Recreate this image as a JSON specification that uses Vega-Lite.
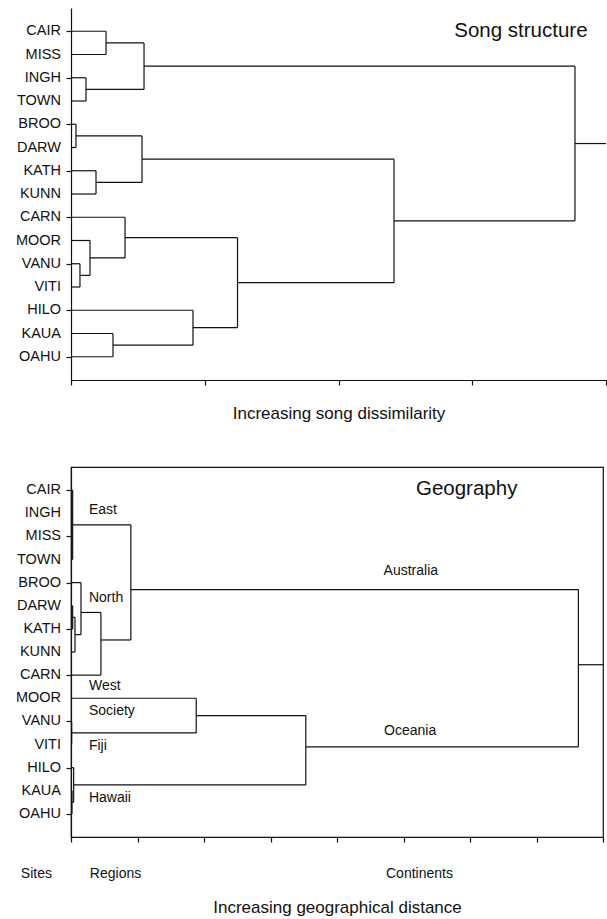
{
  "$schema": "https://vega.github.io/schema/vega-lite/v6.json",
  "background": "white",
  "padding": {"left": 15, "top": 8, "right": 0, "bottom": 0},
  "spacing": 44,
  "config": {
    "font": "Liberation Sans",
    "view": {"stroke": null},
    "axis": {
      "domainColor": "#111", "tickColor": "#111", "domainWidth": 1.2, "tickWidth": 1.2,
      "grid": false, "labels": false, "tickSize": 5,
      "titleFont": "Liberation Sans", "titleFontSize": 17, "titleFontWeight": "normal", "titleColor": "#111"
    },
    "text": {"font": "Liberation Sans", "color": "#111"}
  },
  "datasets": {
    "songLeaves": [
      {"site": "CAIR", "pos": 1}, {"site": "MISS", "pos": 2}, {"site": "INGH", "pos": 3}, {"site": "TOWN", "pos": 4},
      {"site": "BROO", "pos": 5}, {"site": "DARW", "pos": 6}, {"site": "KATH", "pos": 7}, {"site": "KUNN", "pos": 8},
      {"site": "CARN", "pos": 9}, {"site": "MOOR", "pos": 10}, {"site": "VANU", "pos": 11}, {"site": "VITI", "pos": 12},
      {"site": "HILO", "pos": 13}, {"site": "KAUA", "pos": 14}, {"site": "OAHU", "pos": 15}
    ],
    "songSegs": [
      {"x": 0, "x2": 0.262, "y": 1, "y2": 1}, {"x": 0, "x2": 0.262, "y": 2, "y2": 2},
      {"x": 0, "x2": 0.112, "y": 3, "y2": 3}, {"x": 0, "x2": 0.112, "y": 4, "y2": 4},
      {"x": 0, "x2": 0.037, "y": 5, "y2": 5}, {"x": 0, "x2": 0.037, "y": 6, "y2": 6},
      {"x": 0, "x2": 0.187, "y": 7, "y2": 7}, {"x": 0, "x2": 0.187, "y": 8, "y2": 8},
      {"x": 0, "x2": 0.404, "y": 9, "y2": 9}, {"x": 0, "x2": 0.142, "y": 10, "y2": 10},
      {"x": 0, "x2": 0.067, "y": 11, "y2": 11}, {"x": 0, "x2": 0.067, "y": 12, "y2": 12},
      {"x": 0, "x2": 0.912, "y": 13, "y2": 13}, {"x": 0, "x2": 0.314, "y": 14, "y2": 14},
      {"x": 0, "x2": 0.314, "y": 15, "y2": 15},
      {"x": 0.262, "x2": 0.262, "y": 1, "y2": 2},
      {"x": 0.112, "x2": 0.112, "y": 3, "y2": 4},
      {"x": 0.546, "x2": 0.546, "y": 1.5, "y2": 3.5},
      {"x": 0.037, "x2": 0.037, "y": 5, "y2": 6},
      {"x": 0.187, "x2": 0.187, "y": 7, "y2": 8},
      {"x": 0.531, "x2": 0.531, "y": 5.5, "y2": 7.5},
      {"x": 0.067, "x2": 0.067, "y": 11, "y2": 12},
      {"x": 0.142, "x2": 0.142, "y": 10, "y2": 11.5},
      {"x": 0.404, "x2": 0.404, "y": 9, "y2": 10.75},
      {"x": 0.314, "x2": 0.314, "y": 14, "y2": 15},
      {"x": 0.912, "x2": 0.912, "y": 13, "y2": 14.5},
      {"x": 1.245, "x2": 1.245, "y": 9.875, "y2": 13.75},
      {"x": 2.415, "x2": 2.415, "y": 6.5, "y2": 11.8125},
      {"x": 3.768, "x2": 3.768, "y": 2.5, "y2": 9.156},
      {"x": 0.262, "x2": 0.546, "y": 1.5, "y2": 1.5},
      {"x": 0.112, "x2": 0.546, "y": 3.5, "y2": 3.5},
      {"x": 0.546, "x2": 3.768, "y": 2.5, "y2": 2.5},
      {"x": 0.037, "x2": 0.531, "y": 5.5, "y2": 5.5},
      {"x": 0.187, "x2": 0.531, "y": 7.5, "y2": 7.5},
      {"x": 0.531, "x2": 2.415, "y": 6.5, "y2": 6.5},
      {"x": 0.067, "x2": 0.142, "y": 11.5, "y2": 11.5},
      {"x": 0.142, "x2": 0.404, "y": 10.75, "y2": 10.75},
      {"x": 0.404, "x2": 1.245, "y": 9.875, "y2": 9.875},
      {"x": 0.314, "x2": 0.912, "y": 14.5, "y2": 14.5},
      {"x": 0.912, "x2": 1.245, "y": 13.75, "y2": 13.75},
      {"x": 1.245, "x2": 2.415, "y": 11.8125, "y2": 11.8125},
      {"x": 2.415, "x2": 3.768, "y": 9.156, "y2": 9.156},
      {"x": 3.768, "x2": 4, "y": 5.83, "y2": 5.83}
    ],
    "songTitle": [{"label": "Song structure", "d": 3.364, "p": 0.99}],
    "geoLeaves": [
      {"site": "CAIR", "pos": 1}, {"site": "INGH", "pos": 2}, {"site": "MISS", "pos": 3}, {"site": "TOWN", "pos": 4},
      {"site": "BROO", "pos": 5}, {"site": "DARW", "pos": 6}, {"site": "KATH", "pos": 7}, {"site": "KUNN", "pos": 8},
      {"site": "CARN", "pos": 9}, {"site": "MOOR", "pos": 10}, {"site": "VANU", "pos": 11}, {"site": "VITI", "pos": 12},
      {"site": "HILO", "pos": 13}, {"site": "KAUA", "pos": 14}, {"site": "OAHU", "pos": 15}
    ],
    "geoSegs": [
      {"x": 0, "x2": 0.025, "y": 1, "y2": 1}, {"x": 0, "x2": 0.025, "y": 2, "y2": 2},
      {"x": 0, "x2": 0.025, "y": 3, "y2": 3}, {"x": 0, "x2": 0.025, "y": 4, "y2": 4},
      {"x": 0, "x2": 0.15, "y": 5, "y2": 5}, {"x": 0, "x2": 0.025, "y": 6, "y2": 6},
      {"x": 0, "x2": 0.025, "y": 7, "y2": 7}, {"x": 0, "x2": 0.06, "y": 8, "y2": 8},
      {"x": 0, "x2": 0.45, "y": 9, "y2": 9}, {"x": 0, "x2": 1.883, "y": 10, "y2": 10},
      {"x": 0, "x2": 0.01, "y": 11, "y2": 11}, {"x": 0, "x2": 0.01, "y": 12, "y2": 12},
      {"x": 0, "x2": 0.04, "y": 13, "y2": 13}, {"x": 0, "x2": 0.015, "y": 14, "y2": 14},
      {"x": 0, "x2": 0.015, "y": 15, "y2": 15},
      {"x": 0.025, "x2": 0.025, "y": 1, "y2": 4},
      {"x": 0.025, "x2": 0.025, "y": 6, "y2": 7},
      {"x": 0.06, "x2": 0.06, "y": 6.5, "y2": 8},
      {"x": 0.15, "x2": 0.15, "y": 5, "y2": 7.25},
      {"x": 0.45, "x2": 0.45, "y": 6.29, "y2": 9},
      {"x": 0.9, "x2": 0.9, "y": 2.5, "y2": 7.48},
      {"x": 0.01, "x2": 0.01, "y": 11, "y2": 12},
      {"x": 1.883, "x2": 1.883, "y": 10, "y2": 11.5},
      {"x": 0.015, "x2": 0.015, "y": 14, "y2": 15},
      {"x": 0.04, "x2": 0.04, "y": 13, "y2": 14.5},
      {"x": 3.531, "x2": 3.531, "y": 10.75, "y2": 13.75},
      {"x": 7.63, "x2": 7.63, "y": 5.3, "y2": 12.1},
      {"x": 0.025, "x2": 0.9, "y": 2.5, "y2": 2.5},
      {"x": 0.025, "x2": 0.06, "y": 6.5, "y2": 6.5},
      {"x": 0.06, "x2": 0.15, "y": 7.25, "y2": 7.25},
      {"x": 0.15, "x2": 0.45, "y": 6.29, "y2": 6.29},
      {"x": 0.45, "x2": 0.9, "y": 7.48, "y2": 7.48},
      {"x": 0.9, "x2": 7.63, "y": 5.3, "y2": 5.3},
      {"x": 0.01, "x2": 1.883, "y": 11.5, "y2": 11.5},
      {"x": 1.883, "x2": 3.531, "y": 10.75, "y2": 10.75},
      {"x": 0.015, "x2": 0.04, "y": 14.5, "y2": 14.5},
      {"x": 0.04, "x2": 3.531, "y": 13.75, "y2": 13.75},
      {"x": 3.531, "x2": 7.63, "y": 12.1, "y2": 12.1},
      {"x": 7.63, "x2": 8, "y": 8.55, "y2": 8.55}
    ],
    "geoRegions": [
      {"label": "East", "d": 0.27, "p": 1.86},
      {"label": "North", "d": 0.27, "p": 5.68},
      {"label": "West", "d": 0.27, "p": 9.45},
      {"label": "Society", "d": 0.27, "p": 10.54},
      {"label": "Fiji", "d": 0.27, "p": 12.06},
      {"label": "Hawaii", "d": 0.27, "p": 14.31}
    ],
    "geoCentered": [
      {"label": "Australia", "d": 5.11, "p": 4.51},
      {"label": "Oceania", "d": 5.1, "p": 11.4},
      {"label": "Sites", "d": -0.52, "p": 17.6},
      {"label": "Regions", "d": 0.67, "p": 17.6},
      {"label": "Continents", "d": 5.24, "p": 17.6}
    ],
    "geoTitle": [{"label": "Geography", "d": 5.95, "p": 0.95}]
  },
  "vconcat": [
    {
      "width": 535,
      "height": 372,
      "layer": [
        {
          "data": {"name": "songSegs"},
          "mark": {"type": "rule", "color": "#111", "strokeWidth": 1.2},
          "encoding": {
            "x": {"field": "x", "type": "quantitative", "scale": {"domain": [0, 4], "nice": false},
                  "axis": {"values": [0, 1, 2, 3, 4], "title": "Increasing song dissimilarity", "titlePadding": 20}},
            "x2": {"field": "x2"},
            "y": {"field": "y", "type": "quantitative", "scale": {"domain": [0, 16], "reverse": true, "nice": false},
                  "axis": {"values": [1, 2, 3, 4, 5, 6, 7, 8, 9, 10, 11, 12, 13, 14, 15], "title": null}},
            "y2": {"field": "y2"}
          }
        },
        {
          "mark": {"type": "rule", "color": "#111", "strokeWidth": 1.2},
          "encoding": {"y": {"datum": 0, "type": "quantitative"}}
        },
        {
          "data": {"name": "songLeaves"},
          "mark": {"type": "text", "align": "right", "baseline": "middle", "dx": -10, "fontSize": 14.5},
          "encoding": {
            "x": {"datum": 0, "type": "quantitative"},
            "y": {"field": "pos", "type": "quantitative"},
            "text": {"field": "site"}
          }
        },
        {
          "data": {"name": "songTitle"},
          "mark": {"type": "text", "align": "center", "baseline": "middle", "fontSize": 20.5},
          "encoding": {
            "x": {"field": "d", "type": "quantitative"},
            "y": {"field": "p", "type": "quantitative"},
            "text": {"field": "label"}
          }
        }
      ]
    },
    {
      "width": 532,
      "height": 370,
      "view": {"stroke": "#111", "strokeWidth": 1.2},
      "layer": [
        {
          "data": {"name": "geoSegs"},
          "mark": {"type": "rule", "color": "#111", "strokeWidth": 1.2},
          "encoding": {
            "x": {"field": "x", "type": "quantitative", "scale": {"domain": [0, 8], "nice": false},
                  "axis": {"values": [0, 1, 2, 3, 4, 5, 6, 7, 8], "title": "Increasing geographical distance", "titlePadding": 57}},
            "x2": {"field": "x2"},
            "y": {"field": "y", "type": "quantitative", "scale": {"domain": [0, 16], "reverse": true, "nice": false},
                  "axis": {"values": [1, 2, 3, 4, 5, 6, 7, 8, 9, 10, 11, 12, 13, 14, 15], "title": null}},
            "y2": {"field": "y2"}
          }
        },
        {
          "data": {"name": "geoLeaves"},
          "mark": {"type": "text", "align": "right", "baseline": "middle", "dx": -10, "fontSize": 14.5},
          "encoding": {
            "x": {"datum": 0, "type": "quantitative"},
            "y": {"field": "pos", "type": "quantitative"},
            "text": {"field": "site"}
          }
        },
        {
          "data": {"name": "geoRegions"},
          "mark": {"type": "text", "align": "left", "baseline": "middle", "fontSize": 14},
          "encoding": {
            "x": {"field": "d", "type": "quantitative"},
            "y": {"field": "p", "type": "quantitative"},
            "text": {"field": "label"}
          }
        },
        {
          "data": {"name": "geoCentered"},
          "mark": {"type": "text", "align": "center", "baseline": "middle", "fontSize": 14},
          "encoding": {
            "x": {"field": "d", "type": "quantitative"},
            "y": {"field": "p", "type": "quantitative"},
            "text": {"field": "label"}
          }
        },
        {
          "data": {"name": "geoTitle"},
          "mark": {"type": "text", "align": "center", "baseline": "middle", "fontSize": 20.5},
          "encoding": {
            "x": {"field": "d", "type": "quantitative"},
            "y": {"field": "p", "type": "quantitative"},
            "text": {"field": "label"}
          }
        }
      ]
    }
  ]
}
